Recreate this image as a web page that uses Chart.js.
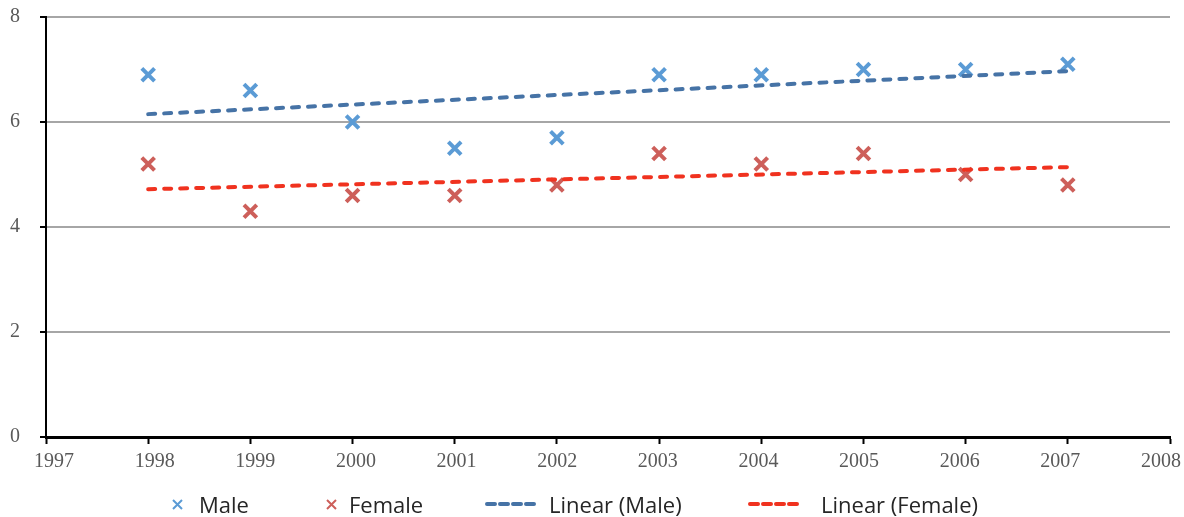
<!DOCTYPE html>
<html>
<head>
<meta charset="utf-8">
<script src="https://cdn.jsdelivr.net/npm/chart.js@4/dist/chart.umd.min.js"></script>
<style>
  html, body { margin: 0; padding: 0; background: #fff; }
  #wrap { position: relative; width: 1184px; height: 517px; }
  #legend { position: absolute; left: 0; top: 489px; width: 1184px; height: 30px;
            font-family: "Open Sans", sans-serif; font-size: 22px; color: #262626; }
  #legend .item { position: absolute; top: 0; display: flex; align-items: center; height: 30px; white-space: nowrap; }
  #legend svg { display: block; }
</style>
</head>
<body>
<div id="wrap">
  <canvas id="chart" width="1184" height="517"></canvas>
  <div id="legend"></div>
</div>
<script>
const years = [1998, 1999, 2000, 2001, 2002, 2003, 2004, 2005, 2006, 2007];
const male = [6.9, 6.6, 6.0, 5.5, 5.7, 6.9, 6.9, 7.0, 7.0, 7.1];
const female = [5.2, 4.3, 4.6, 4.6, 4.8, 5.4, 5.2, 5.4, 5.0, 4.8];
// trend line end points (first and last year)
const trendYears = [1998, 2007];
const maleTrend = [6.15, 6.97];
const femaleTrend = [4.72, 5.14];

const maleColor = '#5B9BD5';
const femaleColor = '#CD5F5A';
const maleTrendColor = '#4673A6';
const femaleTrendColor = '#F0321F';

function pairs(xs, ys) {
    return xs.map((x, i) => ({ x: x, y: ys[i] }));
}

const markerStyle = { pointStyle: 'crossRot', pointRadius: 9, borderWidth: 4, pointBorderWidth: 4, showLine: false };
const trendStyle = { showLine: true, borderWidth: 4, borderDash: [7, 9], borderCapStyle: 'round', pointRadius: 0, fill: false };

// year labels sit a little inward at the two ends so "2008" is not cut off
const squeezeYearLabels = {
    id: 'squeezeYearLabels',
    beforeDraw(chart) {
        const items = chart.scales.x.getLabelItems();
        if (items._squeezed) return;
        const n = items.length - 1;
        items.forEach((it, i) => { it.options.translation[0] += 8 - 17 * i / n; });
        items._squeezed = true;
    }
};

new Chart(document.getElementById('chart'), {
    type: 'scatter',
    data: {
        datasets: [
            Object.assign({ label: 'Linear (Male)', data: pairs(trendYears, maleTrend), borderColor: maleTrendColor }, trendStyle),
            Object.assign({ label: 'Linear (Female)', data: pairs(trendYears, femaleTrend), borderColor: femaleTrendColor }, trendStyle),
            Object.assign({ label: 'Male', data: pairs(years, male), borderColor: maleColor, pointBorderColor: maleColor }, markerStyle),
            Object.assign({ label: 'Female', data: pairs(years, female), borderColor: femaleColor, pointBorderColor: femaleColor }, markerStyle)
        ]
    },
    plugins: [squeezeYearLabels],
    options: {
        responsive: false,
        animation: false,
        layout: { autoPadding: false, padding: { top: 17, right: 14, left: 0, bottom: 37 } },
        plugins: { legend: { display: false }, tooltip: { enabled: false } },
        scales: {
            x: {
                type: 'linear', min: 1997, max: 2008,
                afterFit: s => { s.paddingLeft = 0; s.paddingRight = 0; },
                grid: { drawOnChartArea: false, drawTicks: true, tickLength: 7, tickColor: '#000', tickWidth: 2 },
                border: { color: '#000', width: 3 },
                ticks: { stepSize: 1, padding: 6, color: '#595959',
                         font: { family: '"Liberation Serif", serif', size: 20 },
                         callback: v => String(v) }
            },
            y: {
                min: 0, max: 8,
                afterFit: s => { s.width = 46; s.paddingTop = 0; s.paddingBottom = 0; },
                grid: { color: ctx => ctx.tick && ctx.tick.value === 0 ? 'rgba(0,0,0,0)' : '#A6A6A6',
                        lineWidth: 2, tickLength: 6, tickColor: '#000', tickWidth: 2 },
                border: { color: '#000', width: 2 },
                ticks: { stepSize: 2, padding: 20, color: '#595959',
                         font: { family: '"Liberation Serif", serif', size: 20 } }
            }
        }
    }
});

// legend below the plot
const legendItems = [
    { label: 'Male', kind: 'cross', color: maleColor, left: 171, gap: 15 },
    { label: 'Female', kind: 'cross', color: femaleColor, left: 325, gap: 11 },
    { label: 'Linear (Male)', kind: 'line', color: maleTrendColor, left: 485, gap: 9 },
    { label: 'Linear (Female)', kind: 'line', color: femaleTrendColor, left: 748, gap: 18 }
];
const legend = document.getElementById('legend');
legendItems.forEach(it => {
    const div = document.createElement('div');
    div.className = 'item';
    div.style.left = it.left + 'px';
    let svg;
    if (it.kind === 'cross') {
        svg = `<svg width="13" height="13"><path d="M2 2L11 11M11 2L2 11" stroke="${it.color}" stroke-width="2"/></svg>`;
    } else {
        svg = `<svg width="55" height="8"><line x1="2" y1="4" x2="53" y2="4" stroke="${it.color}" stroke-width="4" stroke-dasharray="8 5" stroke-linecap="round"/></svg>`;
    }
    div.innerHTML = svg + `<span style="margin-left:${it.gap}px">${it.label}</span>`;
    legend.appendChild(div);
});
</script>
</body>
</html>
